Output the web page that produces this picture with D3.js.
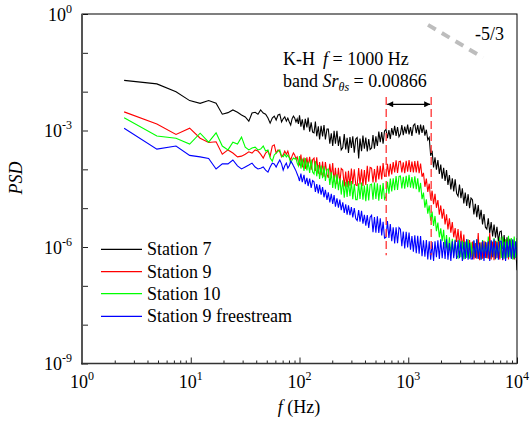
<!DOCTYPE html>
<html><head><meta charset="utf-8">
<script src="https://cdn.jsdelivr.net/npm/d3@7"></script>
<style>body{margin:0;background:#fff}</style>
</head><body><svg id="c" width="531" height="429" font-family="'Liberation Serif', 'Times New Roman', Times, 'DejaVu Serif', serif"></svg>
<script>
// frequency bins (Hz)
const freqHz = [
2.44,4.88,7.32,9.77,12.2,14.6,17.1,19.5,22.0,24.4,
26.9,29.3,31.7,34.2,36.6,39.1,41.5,43.9,46.4,48.8,
51.3,53.7,56.2,58.6,61.0,63.5,65.9,68.4,70.8,73.2,
75.7,78.1,80.6,83.0,85.4,87.9,90.3,92.8,95.2,97.7,
100,103,106,110,113,117,120,124,128,132,
136,140,144,149,153,158,163,168,173,179,
184,190,196,202,208,214,221,228,235,242,
250,258,266,274,282,291,300,309,319,329,
339,350,360,372,383,395,407,420,433,446,
460,474,489,504,520,536,553,570,587,605,
624,644,664,684,705,727,750,773,797,822,
847,873,900,928,957,987,1017,1049,1081,1115,
1149,1185,1222,1259,1298,1339,1380,1423,1467,1512,
1559,1608,1657,1709,1762,1816,1873,1931,1990,2052,
2116,2181,2249,2318,2390,2464,2541,2619,2700,2784,
2870,2959,3051,3145,3243,3343,3447,3553,3663,3777,
3894,4014,4139,4267,4399,4535,4676,4820,4970,5123,
5282,5446,5614,5788,5967,6152,6343,6539,6741,6950,
7165,7387,7616,7851,8094,8345,8603,8870,9144,9427,9719,10000];

// log10(PSD) per series
const station7 = [
-1.71,-1.80,-2.00,-2.23,-2.30,-2.23,-2.30,-2.58,-2.54,-2.47,
-2.53,-2.60,-2.65,-2.76,-2.55,-2.53,-2.58,-2.47,-2.55,-2.58,
-2.68,-2.81,-2.68,-2.63,-2.73,-2.60,-2.58,-2.78,-2.70,-2.65,
-2.76,-2.68,-2.78,-2.86,-2.70,-2.63,-2.68,-2.78,-2.70,-2.83,
-2.61,-2.90,-2.71,-2.99,-2.70,-2.92,-2.67,-3.03,-2.79,-3.04,
-3.06,-2.77,-3.15,-2.89,-3.23,-2.88,-3.15,-2.86,-3.23,-2.96,
-2.96,-3.34,-3.07,-3.40,-3.01,-3.34,-3.01,-3.40,-3.15,-3.50,
-3.44,-3.09,-3.49,-3.19,-3.58,-3.17,-3.45,-3.15,-3.57,-3.22,
-3.18,-3.72,-3.21,-3.53,-3.13,-3.47,-3.18,-3.54,-3.22,-3.49,
-3.45,-3.12,-3.47,-3.15,-3.40,-3.03,-3.30,-3.04,-3.34,-3.01,
-2.97,-3.20,-2.99,-3.22,-2.94,-3.12,-2.88,-3.14,-2.91,-3.16,
-3.09,-2.86,-3.12,-2.90,-3.08,-2.85,-3.10,-2.91,-3.14,-2.87,
-2.83,-3.07,-2.86,-3.11,-2.85,-3.06,-2.87,-3.13,-2.98,-3.24,
-3.18,-3.65,-3.52,-3.95,-3.69,-4.01,-3.76,-4.12,-3.88,-4.24,
-3.96,-4.30,-4.02,-4.40,-4.15,-4.52,-4.23,-4.57,-4.26,-4.62,
-4.69,-4.39,-4.74,-4.49,-4.88,-4.60,-4.94,-4.64,-5.00,-4.74,
-4.78,-5.16,-4.89,-5.23,-4.92,-5.29,-5.04,-5.42,-5.15,-5.49,
-5.54,-5.26,-5.64,-5.36,-5.73,-5.42,-5.76,-5.48,-5.86,-5.61,
-5.59,-6.05,-5.69,-6.15,-5.75,-6.16,-5.79,-6.24,-5.90,-6.32,-5.98,-6.60];

const station9 = [
-2.52,-2.83,-3.10,-2.94,-3.20,-3.31,-3.29,-3.61,-3.50,-3.58,
-3.68,-3.66,-3.61,-3.55,-3.58,-3.50,-3.53,-3.61,-3.71,-3.58,
-3.53,-3.66,-3.40,-3.37,-3.58,-3.50,-3.55,-3.68,-3.63,-3.53,
-3.61,-3.53,-3.68,-3.76,-3.66,-3.58,-3.63,-3.73,-3.68,-3.81,
-3.90,-3.62,-3.95,-3.70,-3.99,-3.69,-3.92,-3.68,-4.01,-3.75,
-3.71,-4.04,-3.69,-4.11,-3.81,-4.15,-3.80,-4.19,-3.81,-4.13,
-4.22,-3.86,-4.20,-3.84,-4.32,-3.96,-4.38,-3.96,-4.36,-3.98,
-4.02,-4.44,-4.06,-4.46,-4.04,-4.42,-3.98,-4.38,-4.00,-4.40,
-4.42,-3.97,-4.39,-4.00,-4.43,-4.02,-4.40,-3.91,-4.32,-3.95,
-3.97,-4.34,-3.99,-4.34,-3.91,-4.26,-3.91,-4.26,-3.84,-4.18,
-4.17,-3.86,-4.18,-3.86,-4.13,-3.81,-4.08,-3.77,-4.09,-3.80,
-3.79,-4.08,-3.82,-4.10,-3.78,-4.06,-3.76,-4.07,-3.80,-4.08,
-3.79,-4.08,-3.78,-4.10,-3.85,-4.19,-4.09,-4.45,-4.24,-4.58,
-4.37,-4.78,-4.55,-4.90,-4.63,-4.99,-4.79,-5.17,-4.93,-5.27,
-5.02,-5.42,-5.16,-5.55,-5.26,-5.63,-5.36,-5.75,-5.51,-5.87,
-5.54,-5.98,-5.58,-6.04,-5.68,-6.17,-5.80,-6.19,-5.82,-6.27,
-5.86,-6.32,-5.90,-6.30,-5.64,-6.34,-5.88,-6.30,-5.84,-6.28,
-5.88,-6.30,-5.64,-6.32,-5.86,-6.34,-5.84,-6.28,-5.86,-6.32,
-5.86,-6.34,-5.88,-6.30,-5.84,-6.32,-5.86,-6.28,-5.82,-6.30,-5.90,-6.34];

const station10 = [
-2.67,-3.14,-3.20,-3.35,-3.07,-3.30,-3.06,-3.40,-3.50,-3.30,
-3.35,-3.17,-3.43,-3.50,-3.45,-3.43,-3.50,-3.48,-3.40,-3.53,
-3.50,-3.71,-3.79,-3.63,-3.58,-3.53,-3.50,-3.66,-3.68,-3.61,
-3.68,-3.63,-3.71,-3.84,-3.76,-3.71,-3.73,-3.71,-3.84,-3.91,
-3.66,-3.98,-3.72,-4.04,-3.71,-4.03,-3.80,-4.09,-3.75,-4.07,
-4.12,-3.79,-4.18,-3.89,-4.25,-3.90,-4.23,-3.92,-4.30,-4.00,
-3.99,-4.40,-4.07,-4.48,-4.15,-4.50,-4.13,-4.54,-4.23,-4.65,
-4.28,-4.73,-4.32,-4.71,-4.30,-4.69,-4.30,-4.77,-4.38,-4.78,
-4.78,-4.36,-4.76,-4.34,-4.78,-4.42,-4.82,-4.38,-4.80,-4.40,
-4.38,-4.78,-4.34,-4.76,-4.36,-4.81,-4.40,-4.76,-4.35,-4.77,
-4.70,-4.32,-4.63,-4.24,-4.57,-4.23,-4.54,-4.17,-4.53,-4.18,
-4.17,-4.49,-4.19,-4.50,-4.17,-4.46,-4.14,-4.47,-4.20,-4.49,
-4.18,-4.51,-4.23,-4.59,-4.35,-4.77,-4.60,-4.99,-4.77,-5.14,
-4.93,-5.32,-5.09,-5.46,-5.20,-5.59,-5.37,-5.75,-5.52,-5.85,
-5.56,-6.04,-5.69,-6.15,-5.75,-6.16,-5.79,-6.23,-5.81,-6.22,
-6.28,-5.82,-6.26,-5.84,-6.32,-5.86,-6.28,-5.80,-6.30,-5.88,
-6.30,-5.84,-6.26,-5.80,-6.28,-5.88,-6.32,-5.82,-6.28,-5.86,
-6.28,-5.73,-6.30,-5.84,-6.26,-5.77,-6.32,-5.84,-6.28,-5.75,
-6.28,-5.73,-6.30,-5.80,-6.28,-5.71,-6.26,-5.77,-6.32,-5.73,-6.28,-5.77];

const station9Freestream = [
-2.94,-3.48,-3.40,-3.64,-3.68,-3.72,-3.99,-3.86,-3.86,-3.76,
-3.91,-3.99,-3.94,-3.89,-3.84,-3.94,-3.99,-3.97,-3.94,-4.02,
-4.07,-3.94,-3.84,-3.86,-3.94,-3.84,-3.76,-3.86,-4.02,-3.91,
-3.84,-3.97,-3.91,-3.79,-3.84,-3.91,-3.97,-4.04,-4.12,-4.20,
-4.30,-4.11,-4.33,-4.14,-4.38,-4.22,-4.43,-4.24,-4.48,-4.29,
-4.32,-4.58,-4.38,-4.62,-4.40,-4.65,-4.46,-4.72,-4.53,-4.79,
-4.59,-4.85,-4.63,-4.89,-4.66,-4.96,-4.75,-4.99,-4.78,-5.05,
-4.85,-5.12,-4.90,-5.17,-4.93,-5.18,-4.97,-5.24,-5.00,-5.27,
-5.32,-5.05,-5.35,-5.07,-5.40,-5.17,-5.45,-5.18,-5.51,-5.23,
-5.18,-5.62,-5.23,-5.63,-5.21,-5.64,-5.26,-5.70,-5.35,-5.77,
-5.75,-5.33,-5.77,-5.41,-5.85,-5.49,-5.91,-5.49,-5.90,-5.50,
-5.54,-5.98,-5.60,-6.04,-5.61,-6.01,-5.63,-6.07,-5.72,-6.12,
-5.70,-6.16,-5.71,-6.17,-5.72,-6.24,-5.83,-6.25,-5.82,-6.32,
-5.85,-6.33,-5.87,-6.36,-5.85,-6.26,-5.83,-6.31,-5.80,-6.29,
-5.87,-6.31,-5.80,-6.33,-5.90,-6.36,-5.85,-6.29,-5.83,-6.31,
-5.83,-6.29,-5.85,-6.36,-5.87,-6.31,-5.80,-6.33,-5.90,-6.31,
-6.31,-5.83,-6.29,-5.80,-6.31,-5.90,-6.33,-5.85,-6.36,-5.87,
-6.29,-5.85,-6.36,-5.83,-6.26,-5.80,-6.31,-5.87,-6.33,-5.85,
-5.85,-6.33,-5.87,-6.36,-5.85,-6.26,-5.83,-6.31,-5.80,-6.29,-5.85,-6.33];

const seriesNames = ["Station 7","Station 9","Station 10","Station 9 freestream"];
const seriesColors = ["#000000","#ff0000","#00ff00","#0000ff"];
const xTickExponents = [0,1,2,3,4];
const yTickExponents = [0,-3,-6,-9];
const khBandHz = [627, 1625];        // dashed band limits
const khBandLogPsd = [-2.14, -6.21]; // vertical extent of dashed lines
const khArrowLogPsd = -2.325;
const slopeRefHz = [1520, 4880];     // -5/3 reference segment
const slopeRefLogPsd = [-0.28, -1.124];

const svg = d3.select("#c");
const L = 82, R = 517, T = 14, B = 363.5;
const x = d3.scaleLog().domain([1, 1e4]).range([L, R]);
const y = d3.scaleLog().domain([1e-9, 1]).range([B, T]);

const defs = svg.append("defs");
defs.append("clipPath").attr("id","clip").append("rect")
  .attr("x",L).attr("y",T).attr("width",R-L).attr("height",B-T);
["s","e"].forEach(k=>{
  defs.append("marker").attr("id","arr"+k).attr("viewBox","0 0 10 10")
    .attr("refX",10).attr("refY",5).attr("markerWidth",9).attr("markerHeight",6)
    .attr("markerUnits","userSpaceOnUse").attr("orient", k==="s" ? "auto-start-reverse" : "auto")
    .append("path").attr("d","M0,0 L10,5 L0,10 Z").attr("fill","#000");
});

// series
const allSeries = [station7, station9, station10, station9Freestream];
const line = d3.line().x(d=>x(d[0])).y(d=>y(d[1]));
const g = svg.append("g").attr("clip-path","url(#clip)");
allSeries.forEach((s,i)=>{
  const pts = s.map((v,j)=>[freqHz[j], Math.pow(10, v)]);
  g.append("path").attr("d", line(pts)).attr("fill","none")
    .attr("stroke", seriesColors[i]).attr("stroke-width",1.1).attr("stroke-linejoin","miter");
});

// axes: major / minor ticks inside
const xMajor = xTickExponents.map(e=>Math.pow(10,e));
const xMinor = [];
for (let e=0;e<4;e++) for (let m=2;m<=9;m++) xMinor.push(m*Math.pow(10,e));
const yAll = d3.range(-9,1).map(e=>Math.pow(10,e));

svg.append("g").attr("transform",`translate(0,${B})`)
  .call(d3.axisBottom(x).tickValues(xMinor).tickSize(-3).tickFormat(""))
  .call(a=>{a.select(".domain").remove(); a.selectAll("line").attr("stroke","#222");});
svg.append("g").attr("transform",`translate(0,${B})`)
  .call(d3.axisBottom(x).tickValues(xMajor).tickSize(-6).tickFormat(""))
  .call(a=>{a.select(".domain").remove(); a.selectAll("line").attr("stroke","#222");});
svg.append("g").attr("transform",`translate(${L},0)`)
  .call(d3.axisLeft(y).tickValues(yAll).tickSize(-6).tickFormat(""))
  .call(a=>{a.select(".domain").remove(); a.selectAll("line").attr("stroke","#222");});

// frame
svg.append("rect").attr("x",L).attr("y",T).attr("width",R-L).attr("height",B-T)
  .attr("fill","none").attr("stroke","#000").attr("stroke-width",1);
svg.append("line").attr("x1",L).attr("x2",L).attr("y1",T).attr("y2",B+1)
  .attr("stroke","#555").attr("stroke-width",2);
svg.append("line").attr("x1",L-1).attr("x2",R).attr("y1",B).attr("y2",B)
  .attr("stroke","#333").attr("stroke-width",1.6);

// tick labels
xTickExponents.forEach(e=>{
  const t = svg.append("text").attr("x", x(Math.pow(10,e))).attr("y", 388)
    .attr("text-anchor","middle").attr("font-size",18).attr("fill","#000");
  t.append("tspan").text("10");
  t.append("tspan").attr("font-size",12).attr("dy",-8).text(e);
});
yTickExponents.forEach(e=>{
  const t = svg.append("text").attr("x", 72).attr("y", y(Math.pow(10,e))+6.5)
    .attr("text-anchor","end").attr("font-size",18).attr("fill","#000");
  t.append("tspan").text("10");
  t.append("tspan").attr("font-size",12).attr("dy",-8).text(e);
});

// axis titles
const xt = svg.append("text").attr("x",299).attr("y",413).attr("text-anchor","middle").attr("font-size",18);
xt.append("tspan").attr("font-style","italic").text("f");
xt.append("tspan").text(" (Hz)");
svg.append("text").attr("transform","translate(22,178) rotate(-90)").attr("text-anchor","middle")
  .attr("font-size",18).attr("font-style","italic").text("PSD");

// K-H band
khBandHz.forEach(f=>{
  svg.append("line").attr("x1",x(f)).attr("x2",x(f))
    .attr("y1",y(Math.pow(10,khBandLogPsd[0]))).attr("y2",y(Math.pow(10,khBandLogPsd[1])))
    .attr("stroke","#ff3333").attr("stroke-width",1.3).attr("stroke-dasharray","8,4");
});
svg.append("line").attr("x1",x(khBandHz[0])+1).attr("x2",x(khBandHz[1])-1)
  .attr("y1",y(Math.pow(10,khArrowLogPsd))).attr("y2",y(Math.pow(10,khArrowLogPsd)))
  .attr("stroke","#000").attr("stroke-width",1.2)
  .attr("marker-start","url(#arrs)").attr("marker-end","url(#arre)");

const a1 = svg.append("text").attr("x",283).attr("y",65).attr("font-size",18);
a1.append("tspan").text("K-H");
a1.append("tspan").attr("dx",8).attr("font-style","italic").text("f");
a1.append("tspan").text(" = 1000 Hz");
const a2 = svg.append("text").attr("x",283).attr("y",87).attr("font-size",18);
a2.append("tspan").text("band ");
a2.append("tspan").attr("font-style","italic").text("Sr");
a2.append("tspan").attr("font-style","italic").attr("font-size",12).attr("dy",4).text("θs");
a2.append("tspan").attr("dy",-4).text(" = 0.00866");

// -5/3 slope reference
svg.append("line")
  .attr("x1",x(slopeRefHz[0])).attr("y1",y(Math.pow(10,slopeRefLogPsd[0])))
  .attr("x2",x(slopeRefHz[1])).attr("y2",y(Math.pow(10,slopeRefLogPsd[1])))
  .attr("stroke","#bdbdbd").attr("stroke-width",4).attr("stroke-dasharray","9,7");
svg.append("text").attr("x",475).attr("y",40).attr("font-size",18).text("-5/3");

// legend
const legY = [249.3, 271.7, 293.6, 316.4];
seriesNames.forEach((n,i)=>{
  svg.append("line").attr("x1",101).attr("x2",142).attr("y1",legY[i]).attr("y2",legY[i])
    .attr("stroke",seriesColors[i]).attr("stroke-width",1.2);
  svg.append("text").attr("x",147).attr("y",legY[i]+6).attr("font-size",18).text(n);
});
</script></body></html>
